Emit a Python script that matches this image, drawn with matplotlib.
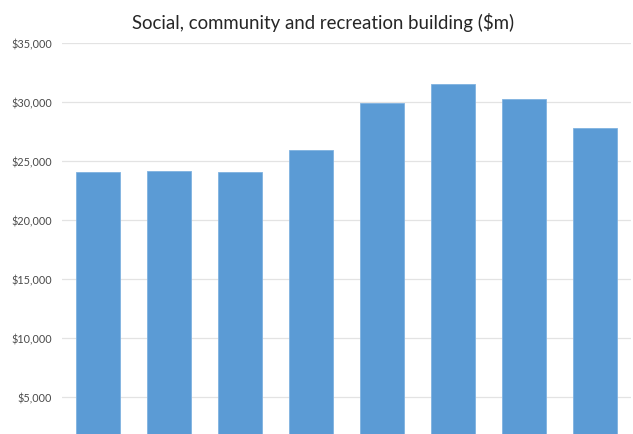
import matplotlib.pyplot as plt
from matplotlib.ticker import FuncFormatter

# social, community and recreation building value by period ($m)
periods = ["1", "2", "3", "4", "5", "6", "7", "8"]
values = [24020, 24150, 24040, 25930, 29880, 31460, 30250, 27740]
yticks = [5000, 10000, 15000, 20000, 25000, 30000, 35000]

plt.rcParams['font.family'] = ['Lato', 'DejaVu Sans']

fig = plt.figure(figsize=(6.33, 4.35), dpi=100)
ax = fig.add_axes([0.0987, 0.0, 0.8975, 0.8998])

ax.bar(range(len(values)), values, width=0.62, color="#5B9BD5",
       edgecolor="#7FB2E0", linewidth=0.6, zorder=3)

ax.set_xlim(-0.5, len(values) - 0.5)
ax.set_ylim(1880, 35000)
ax.set_yticks(yticks)
ax.yaxis.set_major_formatter(FuncFormatter(lambda v, p: "${:,.0f}".format(v)))
ax.set_xticks([])
ax.grid(axis="y", color="#E3E3E3", linewidth=0.9, zorder=0)
ax.tick_params(axis="y", length=0, pad=7.5, labelsize=7.8, labelcolor="#4A4A4A")
for s in ax.spines.values():
    s.set_visible(False)

fig.text(0.511, 0.949, "Social, community and recreation building ($m)",
         ha="center", va="center", fontsize=13.4, color="#262626")

fig.savefig("out.png", dpi=100)
